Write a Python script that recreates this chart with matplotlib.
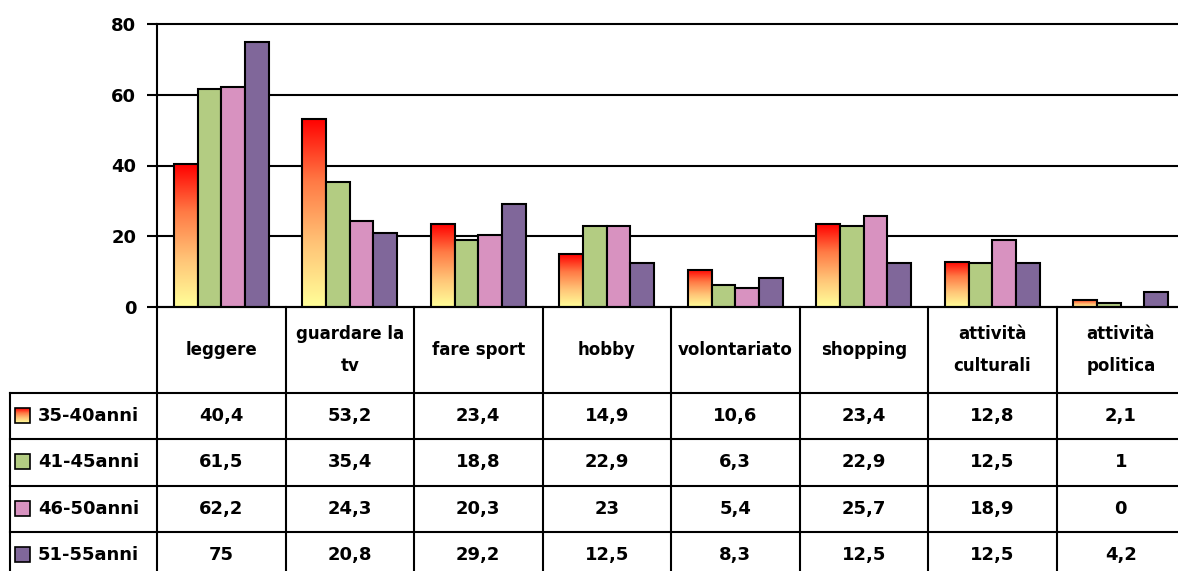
import numpy as np
import matplotlib
matplotlib.use('Agg')
import matplotlib.pyplot as plt
from matplotlib.colors import LinearSegmentedColormap
from matplotlib.patches import Rectangle

plt.rcParams['font.family'] = ['DejaVu Sans']
plt.rcParams['font.weight'] = 'bold'

categories = ['leggere', 'guardare la\ntv', 'fare sport', 'hobby', 'volontariato',
              'shopping', 'attività\nculturali', 'attività\npolitica']
series_names = ['35-40anni', '41-45anni', '46-50anni', '51-55anni']
s_35_40 = [40.4, 53.2, 23.4, 14.9, 10.6, 23.4, 12.8, 2.1]
s_41_45 = [61.5, 35.4, 18.8, 22.9, 6.3, 22.9, 12.5, 1]
s_46_50 = [62.2, 24.3, 20.3, 23, 5.4, 25.7, 18.9, 0]
s_51_55 = [75, 20.8, 29.2, 12.5, 8.3, 12.5, 12.5, 4.2]
yticks = [0, 20, 40, 60, 80]

series = [s_35_40, s_41_45, s_46_50, s_51_55]
colors = [None, '#B3CC82', '#D892C0', '#80679A']
grad = LinearSegmentedColormap.from_list('ry', ['#FFFF99', '#FFC477', '#FF7A45', '#FF0000'])

W, H = 1178, 571
fig = plt.figure(figsize=(W / 100, H / 100), dpi=100)

# layout in pixels
x0, colw = 157, 128.5
y_top, y_zero = 24, 307
ncat = len(categories)
lw = 1.5

ax = fig.add_axes([x0 / W, 1 - y_zero / H, ncat * colw / W, (y_zero - y_top) / H])
ax.set_xlim(0, ncat)
ax.set_ylim(0, 80)
for s in ['top', 'right', 'bottom']:
    ax.spines[s].set_visible(False)
ax.spines['left'].set_linewidth(lw)
ax.set_yticks(yticks)
ax.set_yticklabels([str(t) for t in yticks], fontsize=13, fontweight='bold')
ax.tick_params(axis='y', length=7, width=lw, direction='out', pad=8)
ax.set_xticks([])
for t in yticks:
    ax.axhline(t, color='black', lw=lw, zorder=1, clip_on=False)

bw = 0.184
off = (1 - 4 * bw) / 2
x = np.arange(ncat)
for k, vals in enumerate(series):
    lefts = x + off + k * bw
    for xl, v in zip(lefts, vals):
        if v <= 0:
            continue
        if colors[k] is None:
            rect = Rectangle((xl, 0), bw, v, facecolor='none', edgecolor='black', lw=lw, zorder=3)
            ax.add_patch(rect)
            im = ax.imshow(np.linspace(0, 1, 256).reshape(-1, 1), cmap=grad, origin='lower',
                           extent=(xl, xl + bw, 0, v), aspect='auto', zorder=2)
            im.set_clip_path(rect)
        else:
            ax.add_patch(Rectangle((xl, 0), bw, v, facecolor=colors[k], edgecolor='black', lw=lw, zorder=3))
ax.set_xlim(0, ncat)
ax.set_ylim(0, 80)

# data table underneath
tax = fig.add_axes([0, 0, 1, 1])
tax.set_xlim(0, W)
tax.set_ylim(H, 0)
tax.axis('off')
tax.patch.set_alpha(0)

hdr_bot = 393
rowh = 46.3
lab_left = 10
xr = x0 + ncat * colw
rows_y = [hdr_bot + i * rowh for i in range(len(series) + 1)]

tax.plot([x0, xr], [y_zero, y_zero], color='black', lw=lw)
for y in rows_y:
    tax.plot([lab_left, xr], [y, y], color='black', lw=lw)
tax.plot([lab_left, lab_left], [hdr_bot, H + 10], color='black', lw=lw)
for i in range(ncat + 1):
    xc = x0 + i * colw
    tax.plot([xc, xc], [y_zero, H + 10], color='black', lw=lw)

for i, c in enumerate(categories):
    tax.text(x0 + (i + 0.5) * colw, (y_zero + hdr_bot) / 2, c, ha='center', va='center',
             fontsize=12, fontweight='bold', linespacing=2.0)

for r, (name, vals) in enumerate(zip(series_names, series)):
    yc = hdr_bot + (r + 0.5) * rowh
    key = Rectangle((15, yc - 8), 15, 15, facecolor=colors[r] or 'none', edgecolor='black', lw=1.2, zorder=3)
    tax.add_patch(key)
    if colors[r] is None:
        im = tax.imshow(np.linspace(1, 0, 64).reshape(-1, 1), cmap=grad, origin='lower',
                        extent=(15, 30, yc - 8, yc + 7), aspect='auto', zorder=2)
        im.set_clip_path(key)
    tax.text(38, yc, name, ha='left', va='center', fontsize=13, fontweight='bold')
    for i, v in enumerate(vals):
        tax.text(x0 + (i + 0.5) * colw, yc, f'{v:g}'.replace('.', ','), ha='center', va='center',
                 fontsize=13, fontweight='bold')
tax.set_xlim(0, W)
tax.set_ylim(H, 0)

fig.savefig('out.png', dpi=100)
